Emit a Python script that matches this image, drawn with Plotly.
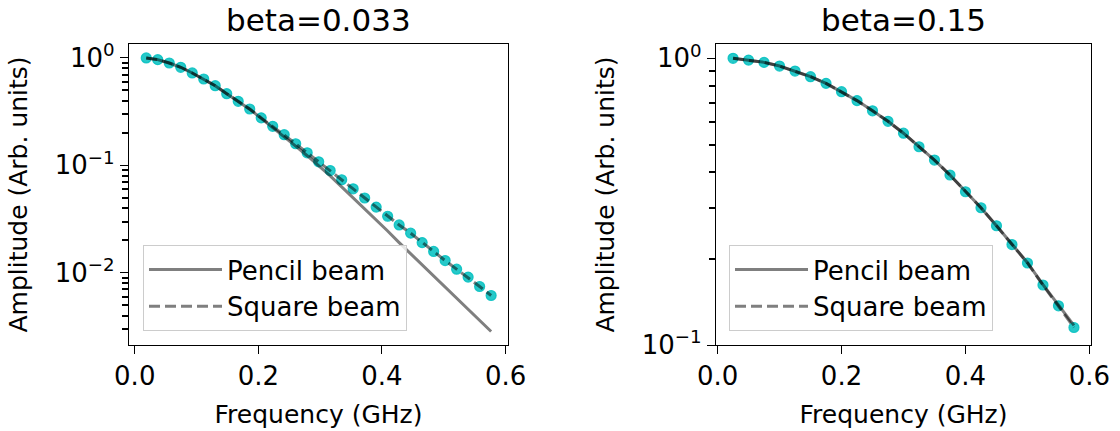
import plotly.graph_objects as go

# ---- data ----
freq_left = [0.0186, 0.0372, 0.0558, 0.0744, 0.0930, 0.1116, 0.1302, 0.1488, 0.1674, 0.1860,
             0.2046, 0.2232, 0.2418, 0.2604, 0.2790, 0.2976, 0.3162, 0.3348, 0.3534, 0.3720,
             0.3906, 0.4092, 0.4278, 0.4464, 0.4650, 0.4836, 0.5022, 0.5208, 0.5394, 0.5580, 0.5766]
points_left = [1.0, 0.965, 0.898, 0.819, 0.725, 0.637, 0.552, 0.465, 0.395, 0.335,
               0.277, 0.231, 0.193, 0.159, 0.131, 0.108, 0.0895, 0.0735, 0.0605, 0.0497,
               0.0409, 0.0336, 0.0279, 0.0234, 0.0191, 0.0158, 0.0130, 0.0108, 0.00912, 0.00746, 0.00615]
pencil_left = [1.0, 0.965, 0.898, 0.819, 0.725, 0.637, 0.552, 0.465, 0.395, 0.334,
               0.274, 0.226, 0.186, 0.151, 0.123, 0.0995, 0.0800, 0.0630, 0.0500, 0.0397,
               0.0310, 0.0245, 0.0191, 0.01505, 0.01185, 0.00933, 0.00734, 0.00578, 0.00455, 0.00358, 0.00284]
square_left = [1.0, 0.965, 0.898, 0.819, 0.725, 0.637, 0.552, 0.465, 0.395, 0.335,
               0.277, 0.231, 0.193, 0.159, 0.131, 0.108, 0.0895, 0.0735, 0.0605, 0.0497,
               0.0409, 0.0336, 0.0279, 0.0234, 0.0191, 0.0158, 0.0130, 0.0108, 0.00912, 0.00746, 0.00615]

freq_right = [0.025, 0.050, 0.075, 0.100, 0.125, 0.150, 0.175, 0.200, 0.225, 0.250, 0.275, 0.300,
              0.325, 0.350, 0.375, 0.400, 0.425, 0.450, 0.475, 0.500, 0.525, 0.550, 0.575]
points_right = [1.0, 0.986, 0.968, 0.940, 0.903, 0.863, 0.818, 0.765, 0.712, 0.656, 0.603, 0.548,
                0.4916, 0.4417, 0.3917, 0.3424, 0.3012, 0.2606, 0.2241, 0.1932, 0.1619, 0.1370, 0.1151]
pencil_right = [1.0, 0.986, 0.968, 0.940, 0.903, 0.863, 0.818, 0.765, 0.712, 0.656, 0.603, 0.548,
                0.4916, 0.4417, 0.3917, 0.3424, 0.3012, 0.2606, 0.2245, 0.1937, 0.1625, 0.1378, 0.1170]
square_right = [1.0, 0.986, 0.968, 0.940, 0.903, 0.863, 0.818, 0.765, 0.712, 0.656, 0.603, 0.548,
                0.4916, 0.4417, 0.3917, 0.3424, 0.3012, 0.2606, 0.2241, 0.1932, 0.1619, 0.1370, 0.1151]

titles = ["beta=0.033", "beta=0.15"]
x_ticks = [0.0, 0.2, 0.4, 0.6]
x_ticktext = ["0.0", "0.2", "0.4", "0.6"]
y_ticks_left = [1, 0.1, 0.01]
y_ticktext_left = ["10<sup>0</sup>", "10<sup>\u22121</sup>", "10<sup>\u22122</sup>"]
y_ticks_right = [1, 0.1]
y_ticktext_right = ["10<sup>0</sup>", "10<sup>\u22121</sup>"]
minor_left = [round(m * 10.0 ** e, 6) for e in (-3, -2, -1) for m in range(2, 10)]
minor_right = [round(m * 0.1, 6) for m in range(2, 10)]

# ---- styling ----
W, H = 1120, 431
FONT = "DejaVu Sans"
MARK = "rgba(0,191,191,0.85)"
LINE = "rgba(0,0,0,0.5)"
YR_LEFT = [-2.672, 0.130]
YR_RIGHT = [-1.0, 0.05]

fig = go.Figure()

def add_panel(fig, xs, pts, pencil, square, xa, ya, legend):
    # markers first so the lines are drawn on top of them
    fig.add_trace(go.Scatter(x=xs, y=pts, mode="markers", xaxis=xa, yaxis=ya, showlegend=False,
                             marker=dict(size=10, color=MARK, line=dict(color=MARK, width=1.2))))
    fig.add_trace(go.Scatter(x=xs, y=pencil, mode="lines", name="Pencil beam", xaxis=xa, yaxis=ya,
                             legend=legend, line=dict(color=LINE, width=3)))
    fig.add_trace(go.Scatter(x=xs, y=square, mode="lines", name="Square beam", xaxis=xa, yaxis=ya,
                             legend=legend, line=dict(color=LINE, width=3, dash="11px,5px")))

add_panel(fig, freq_left, points_left, pencil_left, square_left, "x", "y", "legend")
add_panel(fig, freq_right, points_right, pencil_right, square_right, "x2", "y2", "legend2")

def px_x(p):
    return p / W

def px_y(p):
    return 1 - p / H

dom_left = [px_x(129), px_x(508)]
dom_right = [px_x(716), px_x(1091)]
dom_y = [px_y(345), px_y(44)]

axis_common = dict(showline=True, linecolor="black", linewidth=1.3, mirror=True,
                   ticks="outside", ticklen=8, tickwidth=1.3, tickcolor="black",
                   showgrid=False, zeroline=False, automargin=False,
                   tickfont=dict(family=FONT, size=26, color="black"))

xtitle = dict(text="Frequency (GHz)", font=dict(family=FONT, size=25), standoff=15)
ytitle = dict(text="Amplitude (Arb. units)", font=dict(family=FONT, size=25), standoff=19)

def minor_ticks(vals):
    return dict(tickmode="array", tickvals=vals, ticks="outside",
                ticklen=6, tickwidth=1.6, tickcolor="black", showgrid=False)

legend_common = dict(xanchor="left", yanchor="top", bgcolor="rgba(255,255,255,0.8)",
                     bordercolor="#cccccc", borderwidth=1,
                     font=dict(family=FONT, size=26, color="black"), itemwidth=73)

fig.update_layout(
    template="none",
    width=W, height=H,
    margin=dict(l=0, r=0, t=0, b=0, autoexpand=False),
    paper_bgcolor="white", plot_bgcolor="white",
    font=dict(family=FONT, size=25, color="black"),
    xaxis=dict(domain=dom_left, anchor="y", range=[-0.0093, 0.6039],
               tickvals=x_ticks, ticktext=x_ticktext, ticklabelstandoff=0,
               title=xtitle, **axis_common),
    yaxis=dict(domain=dom_y, anchor="x", type="log", range=YR_LEFT,
               tickvals=y_ticks_left, ticktext=y_ticktext_left,
               minor=minor_ticks(minor_left),
               title=ytitle, **axis_common),
    xaxis2=dict(domain=dom_right, anchor="y2", range=[-0.0025, 0.6025],
                tickvals=x_ticks, ticktext=x_ticktext, ticklabelstandoff=0,
                title=xtitle, **axis_common),
    yaxis2=dict(domain=dom_y, anchor="x2", type="log", range=YR_RIGHT,
                tickvals=y_ticks_right, ticktext=y_ticktext_right,
                minor=minor_ticks(minor_right),
                title=ytitle, **axis_common),
    legend=dict(x=px_x(143), y=px_y(245), **legend_common),
    legend2=dict(x=px_x(729), y=px_y(245), **legend_common),
)

for i, t in enumerate(titles):
    dom = dom_left if i == 0 else dom_right
    fig.add_annotation(text=t, x=(dom[0] + dom[1]) / 2, y=px_y(20), xref="paper", yref="paper",
                       xanchor="center", yanchor="middle", showarrow=False,
                       font=dict(family=FONT, size=31, color="black"))

fig.write_html("out.html")
